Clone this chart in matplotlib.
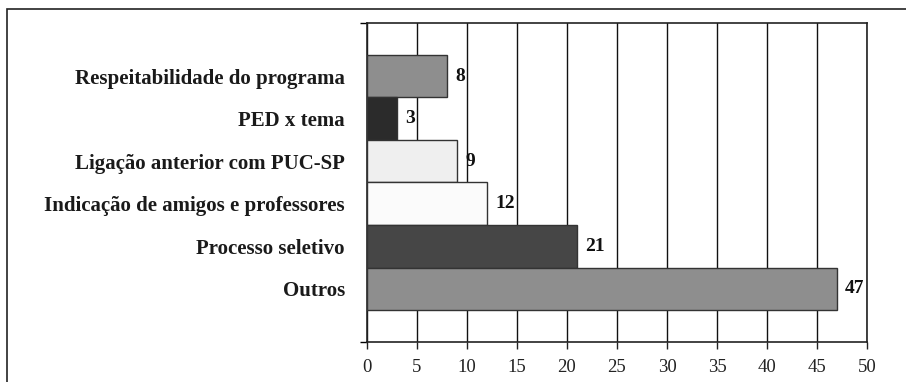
import matplotlib
matplotlib.use("Agg")
import matplotlib.pyplot as plt
from matplotlib.patches import Rectangle

# Motivos de escolha do programa (número de respostas)
categories = [
    "Respeitabilidade do programa",
    "PED x tema",
    "Ligação anterior com PUC-SP",
    "Indicação de amigos e professores",
    "Processo seletivo",
    "Outros",
]
values = [8, 3, 9, 12, 21, 47]
bar_colors = ["#8e8e8e", "#2b2b2b", "#efefef", "#fbfbfb", "#464646", "#8e8e8e"]
x_ticks = [0, 5, 10, 15, 20, 25, 30, 35, 40, 45, 50]

plt.rcParams["font.family"] = ["Liberation Serif", "DejaVu Serif"]

fig = plt.figure(figsize=(9.06, 3.82), dpi=100)
ax = fig.add_axes([367 / 906, 1 - 342 / 382, 500 / 906, 319 / 382])

n = len(categories)
ypos = list(range(n))
ax.barh(ypos, values, height=1.0, color=bar_colors, edgecolor="#333333",
        linewidth=1.0, zorder=3)

for y, v in zip(ypos, values):
    ax.text(v + 0.8, y, f"{v}", va="center", ha="left", fontsize=14,
            fontweight="bold", color="#111111", zorder=4)

ax.set_xlim(0, 50)
ax.set_ylim(n - 0.5 + 0.75, -0.5 - 0.75)
ax.set_xticks(x_ticks)
ax.set_xticklabels([str(t) for t in x_ticks], fontsize=13.5, color="#222222")
ax.set_yticks(ypos)
ax.set_yticklabels(categories, fontsize=15, fontweight="bold", color="#1a1a1a")
ax.set_yticks([n - 0.5 + 0.75, -0.5 - 0.75], minor=True)

ax.tick_params(axis="y", which="major", length=0, pad=16)
ax.tick_params(axis="y", which="minor", length=5, width=1, direction="out")
ax.tick_params(axis="x", which="major", length=5, width=1, direction="out",
               pad=7, color="#222222")

ax.grid(axis="x", color="#111111", linewidth=1.0, zorder=0)
for s in ax.spines.values():
    s.set_color("#222222")
    s.set_linewidth(1.2)

# Moldura externa
fig.patches.append(Rectangle((7 / 906, -0.2), 1.2, 1.2 - 9 / 382,
                             transform=fig.transFigure, fill=False,
                             edgecolor="#222222", linewidth=1.2))

fig.savefig("out.png", dpi=100)
